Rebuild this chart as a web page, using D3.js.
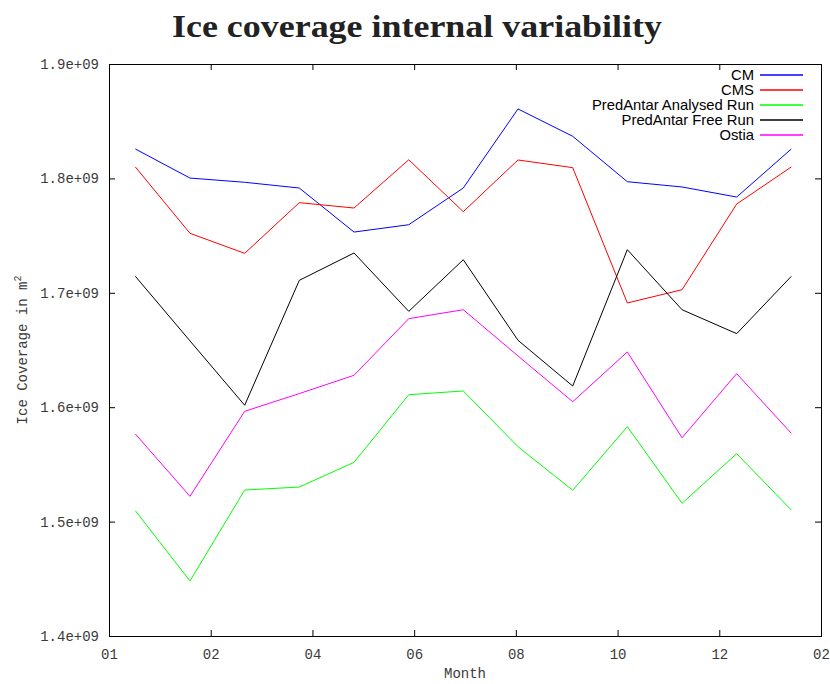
<!DOCTYPE html>
<html>
<head>
<meta charset="utf-8">
<script src="https://cdn.jsdelivr.net/npm/d3@7"></script>
<style>
  body { margin: 0; background: #fff; }
  svg { display: block; }
</style>
</head>
<body>
<div id="chart"></div>
<script>
// x positions of the monthly points, in units of the axis tick interval
var monthPos = [0.259, 0.796, 1.334, 1.871, 2.409, 2.947, 3.483, 4.021, 4.559, 5.096, 5.634, 6.171, 6.708];
var tickLabels = ["01", "02", "04", "06", "08", "10", "12", "02"];
var yTicks = [1.4e9, 1.5e9, 1.6e9, 1.7e9, 1.8e9, 1.9e9];

var seriesNames = ["CM", "CMS", "PredAntar Analysed Run", "PredAntar Free Run", "Ostia"];
var seriesColors = ["#0000ff", "#ff0000", "#00ff00", "#000000", "#ff00ff"];

var cm       = [1.8257, 1.8003, 1.7966, 1.7916, 1.7531, 1.7595, 1.7916, 1.8607, 1.8368, 1.7971, 1.7925, 1.7837, 1.8257];
var cms      = [1.8100, 1.7520, 1.7345, 1.7788, 1.7741, 1.8163, 1.7709, 1.8161, 1.8094, 1.6911, 1.7027, 1.7776, 1.8100];
var analysed = [1.5095, 1.4481, 1.5276, 1.5302, 1.5518, 1.6109, 1.6142, 1.5655, 1.5274, 1.5830, 1.5160, 1.5594, 1.5101];
var freeRun  = [1.7144, 1.6580, 1.6017, 1.7109, 1.7348, 1.6838, 1.7289, 1.6585, 1.6185, 1.7377, 1.6852, 1.6643, 1.7144];
var ostia    = [1.5766, 1.5221, 1.5964, 1.6119, 1.6279, 1.6774, 1.6852, 1.6448, 1.6048, 1.6483, 1.5733, 1.6293, 1.5772];

var seriesValues = [cm, cms, analysed, freeRun, ostia];

var W = 830, H = 684;
var margin = { top: 64, right: 9, bottom: 48, left: 109 },
    width  = W - margin.left - margin.right,
    height = H - margin.top - margin.bottom;

var svg = d3.select("#chart").append("svg")
  .attr("width", W)
  .attr("height", H);

var x = d3.scaleLinear().domain([0, 7]).range([0, width]);
var y = d3.scaleLinear().domain([1.4e9, 1.9e9]).range([height, 0]);

var g = svg.append("g")
  .attr("transform", "translate(" + margin.left + "," + margin.top + ")");

var monoFont = "'Liberation Mono', 'DejaVu Sans Mono', monospace";
var textColor = "#3a3a3a";

// bottom axis
g.append("g")
  .attr("transform", "translate(0," + height + ")")
  .call(d3.axisBottom(x)
    .tickValues(d3.range(tickLabels.length))
    .tickFormat(function(d, i) { return tickLabels[i]; })
    .tickSizeInner(-6).tickSizeOuter(0).tickPadding(13));

// top axis (ticks only)
g.append("g")
  .call(d3.axisTop(x)
    .tickValues(d3.range(tickLabels.length))
    .tickFormat("")
    .tickSizeInner(-6).tickSizeOuter(0));

// left axis
g.append("g")
  .call(d3.axisLeft(y)
    .tickValues(yTicks)
    .tickFormat(function(d) { return d3.format(".1e")(d).replace("e+9", "e+09"); })
    .tickSizeInner(-6).tickSizeOuter(0).tickPadding(10));

// right axis (ticks only)
g.append("g")
  .attr("transform", "translate(" + width + ",0)")
  .call(d3.axisRight(y)
    .tickValues(yTicks)
    .tickFormat("")
    .tickSizeInner(-6).tickSizeOuter(0));

g.selectAll(".domain").remove();
g.selectAll(".tick line").attr("stroke", "#000");
g.selectAll(".tick text")
  .style("font-family", monoFont)
  .style("font-size", "14px")
  .attr("fill", textColor);

// frame
g.append("rect")
  .attr("x", 0.5).attr("y", 0.5)
  .attr("width", width).attr("height", height)
  .attr("fill", "none")
  .attr("stroke", "#000")
  .attr("stroke-width", 1);

// lines
var line = d3.line()
  .x(function(d, i) { return x(monthPos[i]); })
  .y(function(d) { return y(d * 1e9); });

seriesValues.forEach(function(vals, k) {
  g.append("path")
    .attr("fill", "none")
    .attr("stroke", seriesColors[k])
    .attr("stroke-width", 1)
    .attr("d", line(vals));
});

// legend
var legend = svg.append("g").attr("transform", "translate(0,75)");
seriesNames.forEach(function(name, k) {
  var row = legend.append("g").attr("transform", "translate(0," + (k * 15) + ")");
  row.append("text")
    .attr("x", 754)
    .attr("y", 5)
    .attr("text-anchor", "end")
    .style("font-family", "'Liberation Sans', Arial, sans-serif")
    .style("font-size", "14.8px")
    .attr("fill", "#000")
    .text(name);
  row.append("line")
    .attr("x1", 760).attr("x2", 803)
    .attr("y1", 0).attr("y2", 0)
    .attr("stroke", seriesColors[k])
    .attr("stroke-width", 1.6);
});

// axis labels
svg.append("text")
  .attr("x", margin.left + width / 2)
  .attr("y", 678)
  .attr("text-anchor", "middle")
  .style("font-family", monoFont)
  .style("font-size", "14px")
  .attr("fill", textColor)
  .text("Month");

var yl = svg.append("text")
  .attr("transform", "translate(27," + (margin.top + height / 2) + ") rotate(-90)")
  .attr("text-anchor", "middle")
  .style("font-family", monoFont)
  .style("font-size", "14px")
  .attr("fill", textColor);
yl.append("tspan").text("Ice Coverage in m");
yl.append("tspan").attr("dy", -6).style("font-size", "10px").text("2");

// title
svg.append("text")
  .attr("x", 417)
  .attr("y", 37)
  .attr("text-anchor", "middle")
  .style("font-family", "'Liberation Serif', 'DejaVu Serif', serif")
  .style("font-weight", "bold")
  .style("font-size", "31px")
  .attr("fill", "#222")
  .attr("textLength", 490)
  .attr("lengthAdjust", "spacingAndGlyphs")
  .text("Ice coverage internal variability");
</script>
</body>
</html>
